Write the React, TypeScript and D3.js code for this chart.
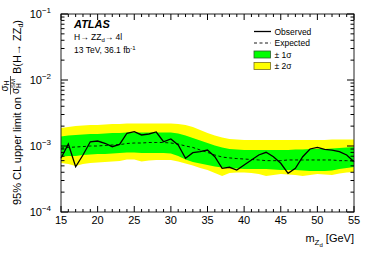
import React from "react";
import * as d3 from "d3";

// m_Zd mass points [GeV]
const masses = [
  15, 16, 17, 18, 19, 20, 21, 22, 23, 24, 25, 26, 27, 28, 29, 30, 31, 32, 33, 34,
  35, 36, 37, 38, 39, 40, 41, 42, 43, 44, 45, 46, 47, 48, 49, 50, 51, 52, 53, 54, 55,
];

// limits, in units of 1e-3
const UNIT = 1e-3;
const observed = [
  0.652, 1.07, 0.485, 0.731, 1.16, 1.19, 1.1, 0.976, 1.06, 1.56, 1.65, 1.47, 1.52, 1.63,
  1.16, 1.28, 1.04, 0.652, 0.792, 0.82, 0.869, 0.689, 0.459, 0.476, 0.433, 0.516, 0.614,
  0.731, 0.803, 0.689, 0.547, 0.386, 0.459, 0.689, 0.901, 0.955, 0.891, 0.869, 0.82,
  0.731, 0.578,
];
const expected = [
  0.93, 0.95, 0.966, 0.98, 1.0, 1.0, 1.02, 1.035, 1.05, 1.09, 1.11, 1.11, 1.13, 1.13,
  1.13, 1.11, 1.07, 1.0, 0.95, 0.87, 0.8, 0.73, 0.68, 0.66, 0.645, 0.635, 0.625, 0.614,
  0.6, 0.6, 0.6, 0.614, 0.614, 0.614, 0.614, 0.614, 0.614, 0.614, 0.6, 0.6, 0.59,
];
const plus2 = [
  1.87, 1.94, 2.01, 2.04, 2.08, 2.08, 2.12, 2.15, 2.15, 2.19, 2.19, 2.19, 2.19, 2.19,
  2.19, 2.19, 2.15, 2.08, 1.94, 1.75, 1.57, 1.44, 1.35, 1.28, 1.25, 1.23, 1.23, 1.23,
  1.23, 1.23, 1.23, 1.23, 1.23, 1.23, 1.23, 1.23, 1.23, 1.25, 1.25, 1.25, 1.25,
];
const plus1 = [
  1.39, 1.44, 1.47, 1.49, 1.52, 1.52, 1.55, 1.57, 1.57, 1.6, 1.6, 1.6, 1.6, 1.6, 1.6,
  1.6, 1.55, 1.44, 1.32, 1.21, 1.11, 1.02, 0.95, 0.9, 0.885, 0.87, 0.87, 0.87, 0.87,
  0.87, 0.87, 0.87, 0.885, 0.885, 0.9, 0.9, 0.9, 0.915, 0.93, 0.95, 0.966,
];
const minus1 = [
  0.69, 0.705, 0.705, 0.73, 0.745, 0.757, 0.757, 0.77, 0.783, 0.797, 0.797, 0.783,
  0.783, 0.783, 0.783, 0.77, 0.705, 0.625, 0.572, 0.543, 0.515, 0.49, 0.472, 0.464,
  0.456, 0.448, 0.448, 0.448, 0.448, 0.44, 0.433, 0.433, 0.433, 0.425, 0.418, 0.418,
  0.418, 0.425, 0.448, 0.464, 0.48,
];
const minus2 = [
  0.553, 0.534, 0.498, 0.534, 0.553, 0.562, 0.572, 0.582, 0.593, 0.625, 0.625, 0.582,
  0.603, 0.614, 0.614, 0.614, 0.582, 0.543, 0.507, 0.464, 0.433, 0.39, 0.351, 0.39,
  0.397, 0.397, 0.39, 0.376, 0.351, 0.364, 0.376, 0.37, 0.364, 0.351, 0.364, 0.376,
  0.37, 0.364, 0.383, 0.397, 0.404,
];

const xTicks = [15, 20, 25, 30, 35, 40, 45, 50, 55];
const yDecades = [-4, -3, -2, -1];

const W = 374;
const H = 254;
const margin = { top: 14, right: 20, bottom: 42, left: 61 };
const FONT = "'Liberation Sans', Arial, Helvetica, sans-serif";

export default function App() {
  const x = d3
    .scaleLinear()
    .domain([15, 55])
    .range([margin.left, W - margin.right]);
  const y = d3
    .scaleLog()
    .domain([1e-4, 1e-1])
    .range([H - margin.bottom, margin.top]);

  const x0 = margin.left;
  const x1 = W - margin.right;
  const y0 = H - margin.bottom;
  const y1 = margin.top;

  const band = (lo: number[], hi: number[]) =>
    d3
      .area<number>()
      .x((d) => x(d))
      .y0((_, i) => y(lo[i] * UNIT))
      .y1((_, i) => y(hi[i] * UNIT))(masses) ?? "";

  const line = (vals: number[]) =>
    d3
      .line<number>()
      .x((d) => x(d))
      .y((_, i) => y(vals[i] * UNIT))(masses) ?? "";

  // minor ticks
  const xMinor = d3.range(15, 56).filter((m) => m % 5 !== 0);
  const yMinor: number[] = [];
  yDecades.slice(0, 3).forEach((e) => {
    for (let k = 2; k <= 9; k++) yMinor.push(k * Math.pow(10, e));
  });

  const legendRows = [31.5, 43, 54.5, 66];
  const lx = 254;

  return (
    <svg
      width={W}
      height={H}
      style={{ position: "absolute", left: 0, top: 0, background: "#fff" }}
      fontFamily={FONT}
    >
      {/* bands */}
      <path d={band(minus2, plus2)} fill="#ffff00" stroke="none" />
      <path d={band(minus1, plus1)} fill="#00ff00" stroke="none" />
      <path
        d={line(expected)}
        fill="none"
        stroke="#000"
        strokeWidth={0.9}
        strokeDasharray="3,2.5"
      />
      <path d={line(observed)} fill="none" stroke="#000" strokeWidth={1.3} />

      {/* frame */}
      <rect
        x={x0}
        y={y1}
        width={x1 - x0}
        height={y0 - y1}
        fill="none"
        stroke="#222"
        strokeWidth={1}
      />

      {/* x ticks */}
      {xTicks.map((t) => (
        <g key={"xt" + t}>
          <line x1={x(t)} x2={x(t)} y1={y0} y2={y0 - 6} stroke="#000" />
          <line x1={x(t)} x2={x(t)} y1={y1} y2={y1 + 6} stroke="#000" />
          <text x={x(t)} y={y0 + 12} fontSize={11} textAnchor="middle">
            {t}
          </text>
        </g>
      ))}
      {xMinor.map((t) => (
        <g key={"xm" + t}>
          <line x1={x(t)} x2={x(t)} y1={y0} y2={y0 - 3} stroke="#000" />
          <line x1={x(t)} x2={x(t)} y1={y1} y2={y1 + 3} stroke="#000" />
        </g>
      ))}

      {/* y ticks */}
      {yDecades.map((e) => {
        const yy = y(Math.pow(10, e));
        return (
          <g key={"yt" + e}>
            <line x1={x0} x2={x0 + 7} y1={yy} y2={yy} stroke="#000" />
            <line x1={x1} x2={x1 - 7} y1={yy} y2={yy} stroke="#000" />
            <text x={51} y={yy + 4} fontSize={11} textAnchor="end">
              10
              <tspan fontSize={8} dy={-5}>
                {"\u2212" + Math.abs(e)}
              </tspan>
            </text>
          </g>
        );
      })}
      {yMinor.map((v, i) => (
        <g key={"ym" + i}>
          <line x1={x0} x2={x0 + 3.5} y1={y(v)} y2={y(v)} stroke="#000" />
          <line x1={x1} x2={x1 - 3.5} y1={y(v)} y2={y(v)} stroke="#000" />
        </g>
      ))}

      {/* x title */}
      <text x={x1} y={242} fontSize={11} textAnchor="end">
        m
        <tspan fontSize={8} dy={3}>
          Z
        </tspan>
        <tspan fontSize={6} dy={2}>
          d
        </tspan>
        <tspan dy={-5}> [GeV]</tspan>
      </text>

      {/* y title */}
      <g transform="translate(21,205) rotate(-90)" fontSize={11}>
        <text x={0} y={0}>
          95% CL upper limit on
        </text>
        <text x={119} y={-13.5} fontSize={10} textAnchor="middle">
          σ<tspan fontSize={6.5} dy={1.5}>H</tspan>
        </text>
        <line x1={110.5} x2={129} y1={-10.5} y2={-10.5} stroke="#000" strokeWidth={0.7} />
        <text x={111} y={-2} fontSize={10}>
          σ
        </text>
        <text x={117} y={-6} fontSize={6}>
          SM
        </text>
        <text x={117} y={-0.3} fontSize={6.5}>
          H
        </text>
        <text x={131} y={0}>
          B(H→ ZZ
          <tspan fontSize={7} dy={2}>
            d
          </tspan>
          <tspan dy={-2}>)</tspan>
        </text>
      </g>

      {/* ATLAS label */}
      <text x={74} y={27.5} fontSize={11} fontWeight="bold" fontStyle="italic">
        ATLAS
      </text>
      <text x={74} y={39.5} fontSize={8.5}>
        H→ ZZ
        <tspan fontSize={6} dy={2}>
          d
        </tspan>
        <tspan dy={-2}>→ 4l</tspan>
      </text>
      <text x={74} y={53} fontSize={8.5}>
        13 TeV, 36.1 fb
        <tspan fontSize={6} dy={-3.5}>
          -1
        </tspan>
      </text>

      {/* legend */}
      <line
        x1={lx}
        x2={lx + 17}
        y1={legendRows[0]}
        y2={legendRows[0]}
        stroke="#000"
        strokeWidth={1.3}
      />
      <line
        x1={lx}
        x2={lx + 17}
        y1={legendRows[1]}
        y2={legendRows[1]}
        stroke="#000"
        strokeWidth={0.9}
        strokeDasharray="3,2.5"
      />
      <rect
        x={lx}
        y={legendRows[2] - 3.5}
        width={16.5}
        height={7}
        fill="#00ff00"
        stroke="#2f5f2f"
        strokeWidth={0.8}
      />
      <rect
        x={lx}
        y={legendRows[3] - 3.5}
        width={16.5}
        height={7}
        fill="#ffff00"
        stroke="#7a6f1a"
        strokeWidth={0.8}
      />
      {["Observed", "Expected", "± 1σ", "± 2σ"].map((t, i) => (
        <text key={t} x={lx + 20.5} y={legendRows[i] + 3} fontSize={8.5}>
          {t}
        </text>
      ))}
    </svg>
  );
}
